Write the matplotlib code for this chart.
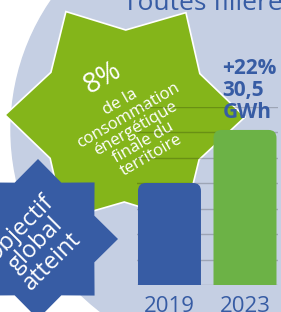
import numpy as np
import matplotlib
matplotlib.use("Agg")
from matplotlib import pyplot as plt
from matplotlib.patches import Circle, Polygon, FancyBboxPatch

years = ['2019', '2023']
values = [25.0, 30.5]          # GWh (2023 = +22 % vs 2019)
label_2023 = '+22%\n30,5\nGWh'
title = 'Toutes filières'
star_big = '8%'
star_body = 'de la\nconsommation\nénergétique\nfinale du\nterritoire'
star_small = 'Objectif\nglobal\natteint'

BLUE = '#375ca4'
GREEN_STAR = '#84b51a'
GREEN_BAR = '#6cb246'
BG = '#c5cfe3'
FONT = ['Open Sans', 'DejaVu Sans']
plt.rcParams['font.family'] = FONT


def star(cx, cy, R, r, n, rot=0.0):
    pts = []
    for i in range(2 * n):
        a = np.deg2rad(rot + i * 180.0 / n)
        rad = R if i % 2 == 0 else r
        pts.append((cx + rad * np.cos(a), cy - rad * np.sin(a)))
    return pts


fig = plt.figure(figsize=(2.81, 3.12), dpi=100)

# decoration layer in pixel coordinates
ax0 = fig.add_axes([0, 0, 1, 1])
ax0.set_xlim(0, 281)
ax0.set_ylim(312, 0)
ax0.axis('off')
ax0.add_patch(Circle((240, 130), 229, color=BG, zorder=0))
ax0.add_patch(Polygon(star(125, 116, 120, 86, 6, -0.5), closed=True,
                      facecolor=GREEN_STAR, edgecolor='white', lw=1.2, zorder=1))
ax0.add_patch(Polygon(star(38, 239, 80, 61, 8, 0), closed=True,
                      facecolor=BLUE, edgecolor='none', zorder=2))
ax0.text(123, 10, title, fontsize=19, color=BLUE, ha='left', va='baseline')
ax0.text(103, 78, star_big, fontsize=20, color='white', ha='center', va='center',
         rotation=30, rotation_mode='anchor', zorder=3)
ax0.text(136, 129, star_body, fontsize=12, color='white', ha='center', va='center',
         rotation=30, rotation_mode='anchor', linespacing=0.95, zorder=3)
ax0.text(36, 245, star_small, fontsize=17, color='white', ha='center', va='center',
         rotation=45, rotation_mode='anchor', linespacing=0.95, zorder=3)

# bar chart
ax = fig.add_axes([137 / 281, 27 / 312, 141 / 281, 178 / 312])
ax.patch.set_alpha(0)
x = np.arange(len(years))
bars = ax.bar(x, values, width=0.834, color=[BLUE, GREEN_BAR], zorder=2)
ax.set_xlim(-0.430, 1.437)
lo, hi = 14.42, 32.88
ax.set_ylim(lo, hi)
ax.set_yticks(np.linspace(lo, hi, 8))
ax.grid(axis='y', color='black', alpha=0.2, lw=1.0, zorder=1)
ax.set_axisbelow(True)
for s in ax.spines.values():
    s.set_visible(False)
ax.set_xticks(x, years)
ax.tick_params(length=0, labelleft=False, pad=8, labelsize=16, labelcolor=BLUE)

# rounded tops
px_x = 141 / (1.437 + 0.430)
px_y = 178 / (hi - lo)
for b in bars:
    bx, by, bw, bh = b.get_x(), b.get_y(), b.get_width(), b.get_height()
    fc = b.get_facecolor()
    b.remove()
    ax.add_patch(FancyBboxPatch((bx, by), bw, bh,
                                boxstyle=f'round,pad=0,rounding_size={8 / px_x}',
                                mutation_aspect=px_x / px_y, facecolor=fc,
                                edgecolor='none', zorder=2))

ax.annotate(label_2023, xy=(x[1] - 0.417, values[1]), xytext=(6.5, 5),
            textcoords='offset points', ha='left', va='bottom', fontsize=15,
            fontweight='bold', color=BLUE, linespacing=1.05, annotation_clip=False)

fig.savefig('out.png', dpi=100)
